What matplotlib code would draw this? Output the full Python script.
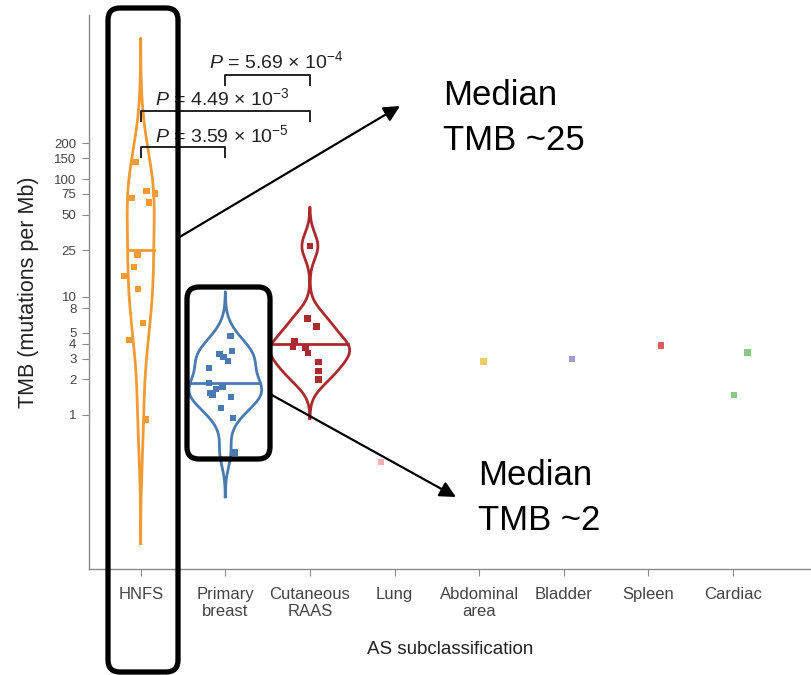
import numpy as np
import matplotlib
matplotlib.use('Agg')
import matplotlib.pyplot as plt
from matplotlib.patches import FancyBboxPatch
from matplotlib.transforms import IdentityTransform
from matplotlib.ticker import FixedLocator, FixedFormatter, NullLocator

plt.rcParams['font.family'] = 'Liberation Sans'
plt.rcParams['mathtext.fontset'] = 'custom'
plt.rcParams['mathtext.rm'] = 'Liberation Sans'
plt.rcParams['mathtext.it'] = 'Liberation Sans:italic'

# --- Data ---
categories = ['HNFS', 'Primary\nbreast', 'Cutaneous\nRAAS', 'Lung',
              'Abdominal\narea', 'Bladder', 'Spleen', 'Cardiac']

hnfs_tmb = [139, 79, 75, 69, 63, 23, 18, 15, 11.7, 6.0, 4.3, 0.92]
hnfs_jitter = [-0.06, 0.07, 0.17, -0.11, 0.10, -0.04, -0.08, -0.20, -0.03, 0.03, -0.14, 0.06]

breast_tmb = [4.67, 3.5, 3.29, 3.1, 2.87, 2.5, 1.87, 1.73, 1.66, 1.54, 1.48, 1.42, 1.15, 0.94, 0.48]
breast_jitter = [0.06, 0.08, -0.07, -0.02, 0.03, -0.19, -0.19, -0.03, -0.11, -0.18, -0.15, 0.07, -0.05, 0.09, 0.11]

raas_tmb = [27, 6.6, 5.6, 4.2, 3.77, 3.7, 3.35, 2.8, 2.36, 2.0]
raas_jitter = [0.0, -0.03, 0.08, -0.18, -0.20, -0.05, -0.02, 0.10, 0.10, 0.10]

# single samples (Lung, Abdominal area, Bladder, Spleen, Cardiac x2)
other_cat = [4, 5, 6, 7, 8, 8]
other_tmb = [0.40, 2.83, 2.98, 3.9, 3.37, 1.47]
other_jitter = [-0.16, 0.05, 0.10, 0.15, 0.17, 0.01]

medians = [25, 1.87, 4.0]

yticks = [1, 2, 3, 4, 5, 8, 10, 25, 50, 75, 100, 150, 200]

comparisons = [(1, 2), (1, 3), (2, 3)]
p_labels = [r'$P$ = 3.59 × 10$^{-5}$', r'$P$ = 4.49 × 10$^{-3}$', r'$P$ = 5.69 × 10$^{-4}$']

# --- Style ---
violin_colors = ['#F29A33', '#4A7AB0', '#AA2A2E']
other_colors = ['#F4A3A8', '#E8C64E', '#8E89C9', '#D8403F', '#72BF72', '#72BF72']
bandwidths = [0.35, 0.125, 0.11]   # in log10 units
half_widths = [0.16, 0.43, 0.47]   # peak half-width in category units

bracket_y = [187, 377, 762]
bracket_drop = [153, 311, 626]
p_text_x = [1.17, 1.17, 1.81]
p_text_y = [206, 424, 873]


def kde_outline(vals, bw, n=400):
    lv = np.log10(vals)
    grid = np.linspace(lv.min() - 3 * bw, lv.max() + 3 * bw, n)
    dens = np.exp(-0.5 * ((grid[:, None] - lv[None, :]) / bw) ** 2).sum(axis=1)
    return grid, dens / dens.max()


fig = plt.figure(figsize=(8.11, 6.75), dpi=100)
ax = fig.add_axes([89 / 811, 106 / 675, 722 / 811, 554 / 675])
ax.set_yscale('log')
ax.set_xlim(0.389, 8.923)
ax.set_ylim(0.0495, 2455)

groups = [(hnfs_tmb, hnfs_jitter), (breast_tmb, breast_jitter), (raas_tmb, raas_jitter)]
for i, (vals, jit) in enumerate(groups):
    pos = i + 1
    grid, dens = kde_outline(vals, bandwidths[i])
    w = dens * half_widths[i]
    xs = np.r_[pos - w, (pos + w)[::-1], pos - w[0]]
    ys = 10 ** np.r_[grid, grid[::-1], grid[0]]
    ax.plot(xs, ys, color=violin_colors[i], lw=2.0, solid_joinstyle='round')
    wm = np.interp(np.log10(medians[i]), grid, dens) * half_widths[i]
    ax.plot([pos - wm, pos + wm], [medians[i], medians[i]], color=violin_colors[i], lw=2.0)
    ax.scatter(pos + np.array(jit), vals, marker='s', s=22, color=violin_colors[i],
               edgecolors='none', zorder=3)

ax.scatter(np.array(other_cat) + np.array(other_jitter), other_tmb, marker='s', s=22,
           color=other_colors, edgecolors='none', alpha=0.85, zorder=3)

# significance brackets
for k, (a, b) in enumerate(comparisons):
    ax.plot([a, a, b, b], [bracket_drop[k], bracket_y[k], bracket_y[k], bracket_drop[k]],
            color='#222222', lw=1.4)
    ax.text(p_text_x[k], p_text_y[k], p_labels[k], fontsize=14, color='#222222',
            ha='left', va='baseline')

# axes styling
for s in ['top', 'right']:
    ax.spines[s].set_visible(False)
for s in ['left', 'bottom']:
    ax.spines[s].set_color('#8a8a8a')
    ax.spines[s].set_linewidth(1.0)
ax.yaxis.set_major_locator(FixedLocator(yticks))
ax.yaxis.set_major_formatter(FixedFormatter([str(t) for t in yticks]))
ax.yaxis.set_minor_locator(NullLocator())
ax.set_xticks(range(1, len(categories) + 1))
ax.set_xticklabels(categories, linespacing=1.15)
ax.tick_params(axis='y', colors='#8a8a8a', labelcolor='#444444', labelsize=9.5,
               length=5, pad=4)
ax.tick_params(axis='x', colors='#8a8a8a', labelcolor='#444444', labelsize=12,
               length=5, pad=8)
ax.set_xlabel('AS subclassification', fontsize=13.5, color='#222222', labelpad=16)
ax.set_ylabel('TMB (mutations per Mb)', fontsize=15.5, color='#222222', labelpad=11)

# --- Annotation overlay (figure pixels) ---
ident = IdentityTransform()
for (x0, y0, w, h) in [(108, 3, 70, 664), (187, 216, 83, 172)]:
    fig.add_artist(FancyBboxPatch((x0, y0), w, h, boxstyle='round,pad=0,rounding_size=12',
                                  transform=ident, fill=False, ec='black', lw=3.8, zorder=5))

for start, tip in [((178, 437), (400, 569)), ((270, 281), (456, 178))]:
    ax.annotate('', xy=tip, xytext=start, xycoords='figure pixels', textcoords='figure pixels',
                arrowprops=dict(arrowstyle='-|>', color='black', lw=1.6, mutation_scale=24,
                                shrinkA=0, shrinkB=0), annotation_clip=False)

for x, y, txt in [(443, 570, 'Median'), (443, 525, 'TMB ~25'),
                  (478, 190, 'Median'), (478, 145, 'TMB ~2')]:
    fig.text(x / 811, y / 675, txt, fontsize=25, color='black', ha='left', va='baseline')

fig.savefig('out.png', dpi=100)
